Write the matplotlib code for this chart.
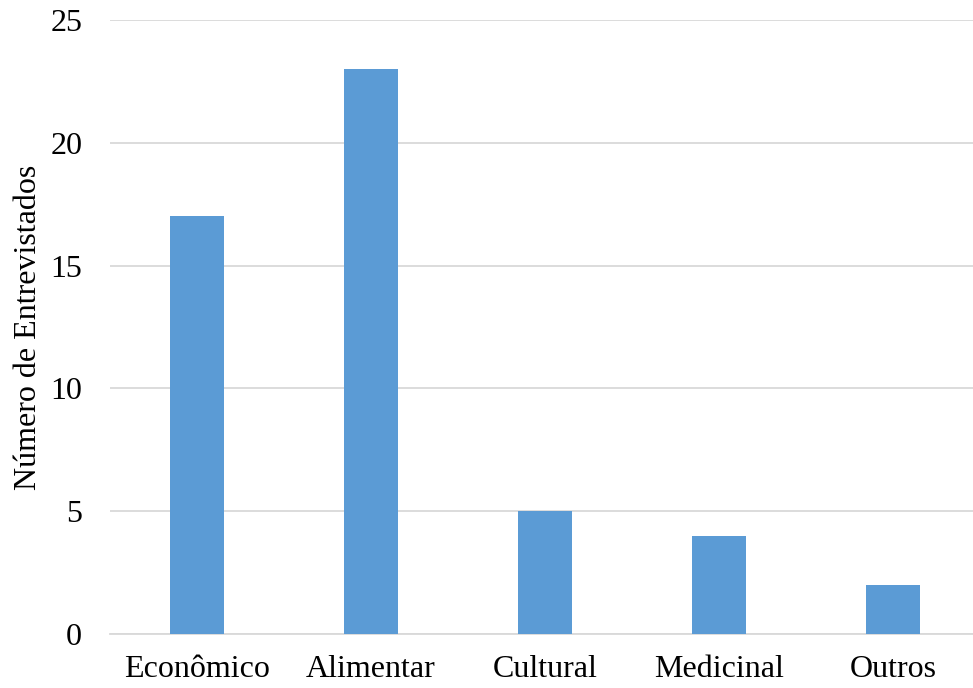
import matplotlib
matplotlib.use('Agg')
import matplotlib.pyplot as plt

# usos citados pelos entrevistados
categorias = ['Econômico', 'Alimentar', 'Cultural', 'Medicinal', 'Outros']
entrevistados = [17, 23, 5, 4, 2]

plt.rcParams['font.family'] = ['Liberation Serif', 'DejaVu Serif']

fig = plt.figure(figsize=(9.73, 6.88), dpi=100)
ax = fig.add_axes([110/973, (688-634)/688, 870/973, 614/688])

x = range(len(categorias))
ax.bar(x, entrevistados, width=0.31, color='#5B9BD5', zorder=3)

ax.set_xlim(-0.5, len(categorias) - 0.5)
ax.set_ylim(0, 25)
ax.set_yticks(range(0, 26, 5))
ax.set_xticks(list(x))
ax.set_xticklabels(categorias)

ax.grid(axis='y', color='#D9D9D9', linewidth=1.3, zorder=0)
for s in ['top', 'right', 'left']:
    ax.spines[s].set_visible(False)
ax.spines['bottom'].set_color('#D9D9D9')
ax.spines['bottom'].set_linewidth(1.3)
ax.tick_params(axis='both', length=0, labelsize=23)
ax.tick_params(axis='y', pad=20)
ax.tick_params(axis='x', pad=15)
ax.set_ylabel('Número de Entrevistados', fontsize=23, labelpad=5)

fig.savefig('out.png', dpi=100)
